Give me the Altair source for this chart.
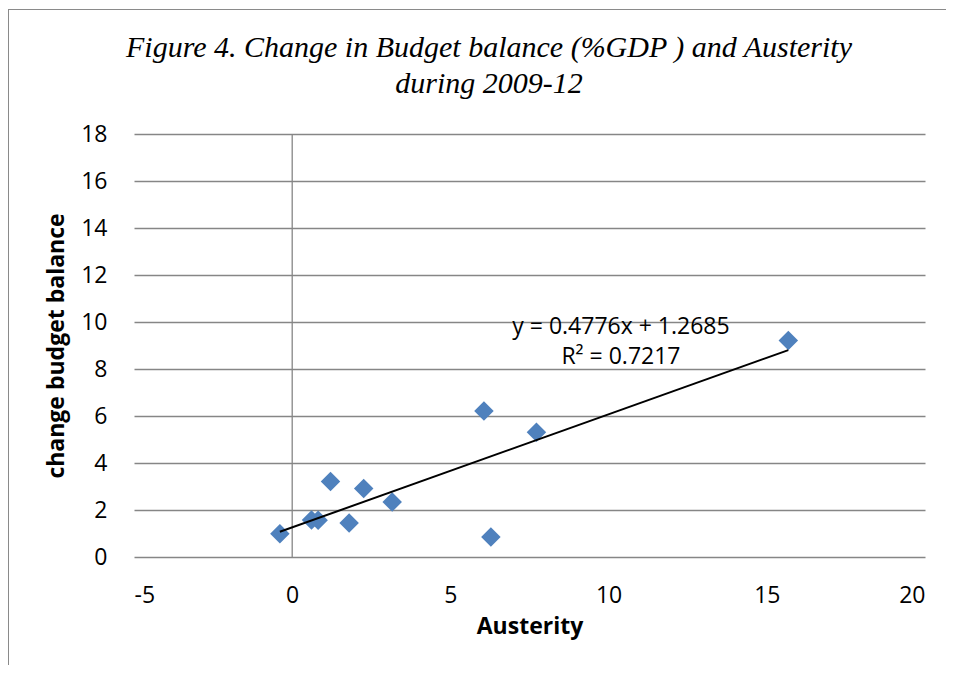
import altair as alt
import pandas as pd

# Data
austerity = [-0.39, 0.61, 0.82, 1.21, 1.80, 2.26, 3.16, 6.06, 7.72, 6.28, 15.68]
budget_change = [0.99, 1.57, 1.56, 3.21, 1.45, 2.92, 2.34, 6.21, 5.31, 0.85, 9.21]

x_ticks = [-5, 0, 5, 10, 15, 20]
y_ticks = [0, 2, 4, 6, 8, 10, 12, 14, 16, 18]

eq_lines = ["y = 0.4776x + 1.2685", "R\u00b2 = 0.7217"]
eq_x = [10.39, 10.39]
eq_y = [9.80, 8.53]

title_lines = ["Figure 4. Change in Budget balance (%GDP ) and Austerity", "during 2009-12"]

df = pd.DataFrame({"x": austerity, "y": budget_change})
eq_df = pd.DataFrame({"label": eq_lines, "x": eq_x, "y": eq_y})

W, H = 791, 423
GRID = "#868686"
FONT = "Open Sans"

xscale = alt.Scale(domain=[-5, 20], nice=False, zero=False)
yscale = alt.Scale(domain=[0, 18], nice=False)

base = alt.Chart(df)

points = base.mark_point(shape="diamond", filled=True, size=380, opacity=1, color="#4F81BD").encode(
    x=alt.X("x:Q", scale=xscale, axis=alt.Axis(
        values=x_ticks, grid=False, domain=False, ticks=False, labelExpr="'' + datum.value",
        labelFontSize=23, labelFont=FONT, labelColor="#000000", labelPadding=27,
        title="Austerity", titleFont=FONT, titleFontSize=23, titleFontWeight="bold",
        titleColor="#000000", titlePadding=8)),
    y=alt.Y("y:Q", scale=yscale, axis=alt.Axis(
        values=y_ticks, grid=True, gridColor=GRID, gridWidth=1.3, domain=False, ticks=False,
        labelExpr="'' + datum.value",
        labelFontSize=23, labelFont=FONT, labelColor="#000000", labelPadding=27,
        title="change budget balance", titleFont=FONT, titleFontSize=23, titleFontWeight="bold",
        titleColor="#000000", titlePadding=12)),
)

zero_line = alt.Chart(pd.DataFrame({"x": [0]})).mark_rule(color=GRID, strokeWidth=1.3).encode(
    x=alt.X("x:Q", scale=xscale)
)

trend = base.transform_regression("x", "y").mark_line(color="#000000", strokeWidth=2).encode(
    x=alt.X("x:Q", scale=xscale),
    y=alt.Y("y:Q", scale=yscale),
)

eq_text = alt.Chart(eq_df).mark_text(font=FONT, fontSize=23, color="#000000", align="center", baseline="middle").encode(
    x=alt.X("x:Q", scale=xscale),
    y=alt.Y("y:Q", scale=yscale),
    text="label:N",
)

title_text = alt.Chart(pd.DataFrame({"t": [0]})).mark_text(
    font="Liberation Serif", fontStyle="italic", fontSize=30, lineHeight=36,
    align="center", baseline="alphabetic", color="#000000",
).encode(x=alt.value(355), y=alt.value(-77.5), text=alt.value(title_lines))

border_left = alt.Chart(df).mark_rule(color="#8a8a8a", strokeWidth=1).encode(
    x=alt.value(-125.5), y=alt.value(-125), y2=alt.value(H + 120)
)
border_top = alt.Chart(df).mark_rule(color="#8a8a8a", strokeWidth=1).encode(
    x=alt.value(-126), x2=alt.value(W + 30), y=alt.value(-124.5)
)

chart = alt.layer(zero_line, points, trend, eq_text, title_text, border_left, border_top).properties(
    width=W,
    height=H,
    autosize=alt.AutoSizeParams(type="none"),
    padding={"left": 126, "top": 126, "right": 21, "bottom": 108},
).configure_view(stroke=None)

chart.save("out.html", embed_options={"renderer": "svg", "actions": False})
